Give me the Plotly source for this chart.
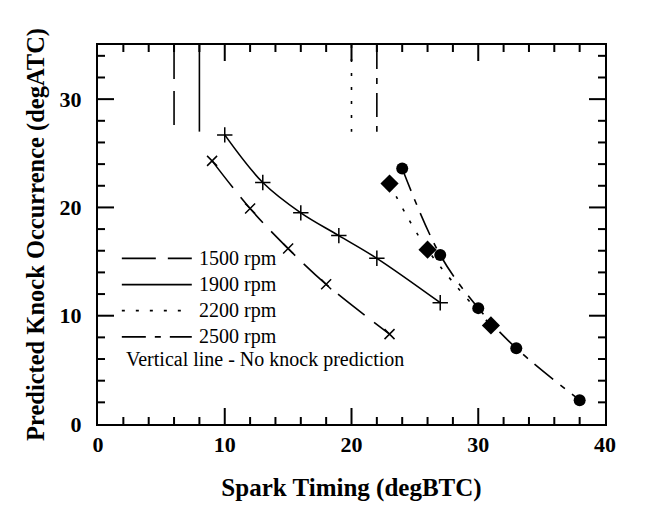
import plotly.graph_objects as go

# Data
x_1500 = [9, 12, 15, 18, 23]
y_1500 = [24.3, 19.9, 16.2, 12.9, 8.3]

x_1900 = [10, 13, 16, 19, 22, 27]
y_1900 = [26.7, 22.3, 19.5, 17.4, 15.3, 11.2]

x_2200 = [23, 26, 31]
y_2200 = [22.2, 16.1, 9.1]

x_2500 = [24, 27, 30, 33, 38]
y_2500 = [23.6, 15.6, 10.7, 7.0, 2.2]

# "No knock" vertical lines (spark timing, from top of plot down to 27)
vline_x = {"1500 rpm": 6, "1900 rpm": 8, "2200 rpm": 20, "2500 rpm": 22}
vline_y = [35, 27]

x_range = [0, 40]
y_range = [0, 35]
x_major_ticks = [10, 20, 30]
y_major_ticks = [10, 20, 30]
x_minor_ticks = [v for v in range(2, 40, 2) if v not in x_major_ticks]
y_minor_ticks = [v for v in range(2, 35, 2) if v not in y_major_ticks]

labels = ["1500 rpm", "1900 rpm", "2200 rpm", "2500 rpm"]
note_text = "Vertical line - No knock prediction"
series = {
    "1500 rpm": (x_1500, y_1500),
    "1900 rpm": (x_1900, y_1900),
    "2200 rpm": (x_2200, y_2200),
    "2500 rpm": (x_2500, y_2500),
}
dashes = {
    "1500 rpm": "34px,12px",
    "1900 rpm": "solid",
    "2200 rpm": "3px,11px",
    "2500 rpm": "24px,9px,6px,9px",
}
markers = {
    "1500 rpm": dict(symbol="x-thin-open", size=10, color="black", line=dict(width=1.5, color="black")),
    "1900 rpm": dict(symbol="cross-thin-open", size=11, color="black", line=dict(width=1.5, color="black")),
    "2200 rpm": dict(symbol="diamond", size=14, color="black"),
    "2500 rpm": dict(symbol="circle", size=12, color="black"),
}

FONT = "Liberation Serif"

# plot-area size in px (from layout below) -> tick lengths converted to axis units
W, H = 645, 514
ML, MR, MT, MB = 98, 40, 45, 90
px_per_x = (W - ML - MR) / (x_range[1] - x_range[0])
px_per_y = (H - MT - MB) / (y_range[1] - y_range[0])

fig = go.Figure()
for lab in labels:
    xs, ys = series[lab]
    fig.add_trace(go.Scatter(
        x=xs, y=ys, mode="lines", name=lab,
        line=dict(color="black", width=1.6, dash=dashes[lab], shape="spline", smoothing=1.0),
        showlegend=False,
    ))
    fig.add_trace(go.Scatter(
        x=xs, y=ys, mode="markers", marker=markers[lab], showlegend=False,
    ))
    vx = vline_x[lab]
    fig.add_trace(go.Scatter(
        x=[vx, vx], y=vline_y, mode="lines",
        line=dict(color="black", width=1.6, dash=dashes[lab]), showlegend=False,
    ))

# Inward tick marks on all four sides at the axis tick values
tx, ty = [], []
for vals, length in ((x_major_ticks, 16), (x_minor_ticks, 7)):
    L = length / px_per_y
    for v in vals:
        tx += [v, v, None, v, v, None]
        ty += [y_range[0], y_range[0] + L, None, y_range[1], y_range[1] - L, None]
for vals, length in ((y_major_ticks, 16), (y_minor_ticks, 7)):
    L = length / px_per_x
    for v in vals:
        tx += [x_range[0], x_range[0] + L, None, x_range[1], x_range[1] - L, None]
        ty += [v, v, None, v, v, None]
fig.add_trace(go.Scatter(
    x=tx, y=ty, mode="lines", line=dict(color="black", width=2),
    hoverinfo="skip", showlegend=False, connectgaps=False,
))

# Legend drawn in paper space (keys + labels), laid out like the original
leg_x0, leg_x1, leg_text_x = 0.047, 0.185, 0.196
leg_top, leg_step = 0.437, 0.069
for i, lab in enumerate(labels):
    yy = leg_top - i * leg_step
    fig.add_shape(type="line", xref="paper", yref="paper",
                  x0=leg_x0, x1=leg_x1, y0=yy, y1=yy,
                  line=dict(color="black", width=1.8, dash=dashes[lab]))
    fig.add_annotation(x=leg_text_x, y=yy, xref="paper", yref="paper",
                       xanchor="left", yanchor="middle", text=lab, showarrow=False,
                       font=dict(family=FONT, size=20, color="black"))
fig.add_annotation(
    x=0.052, y=leg_top - 4 * leg_step + 0.008, xref="paper", yref="paper",
    xanchor="left", yanchor="middle", text=note_text, showarrow=False,
    font=dict(family=FONT, size=20, color="black"),
)

tickfont = dict(family=FONT, size=22, color="black", weight="bold")

fig.update_layout(
    width=W, height=H,
    margin=dict(l=ML, r=MR, t=MT, b=MB),
    paper_bgcolor="white", plot_bgcolor="white",
    showlegend=False,
    xaxis=dict(
        range=x_range, tickmode="linear", tick0=0, dtick=10,
        showgrid=False, zeroline=False, showline=True, linecolor="black", linewidth=2,
        mirror=True, ticks="", tickfont=tickfont,
        title=dict(text="Spark Timing (degBTC)", standoff=22,
                   font=dict(family=FONT, size=25, color="black", weight="bold")),
    ),
    yaxis=dict(
        range=y_range, tickmode="linear", tick0=0, dtick=10,
        showgrid=False, zeroline=False, showline=True, linecolor="black", linewidth=2,
        mirror=True, ticks="", tickfont=tickfont, ticklabelstandoff=10,
        title=dict(text="Predicted Knock Occurrence (degATC)", standoff=8,
                   font=dict(family=FONT, size=24.5, color="black", weight="bold")),
    ),
)

fig.write_html("out.html")
